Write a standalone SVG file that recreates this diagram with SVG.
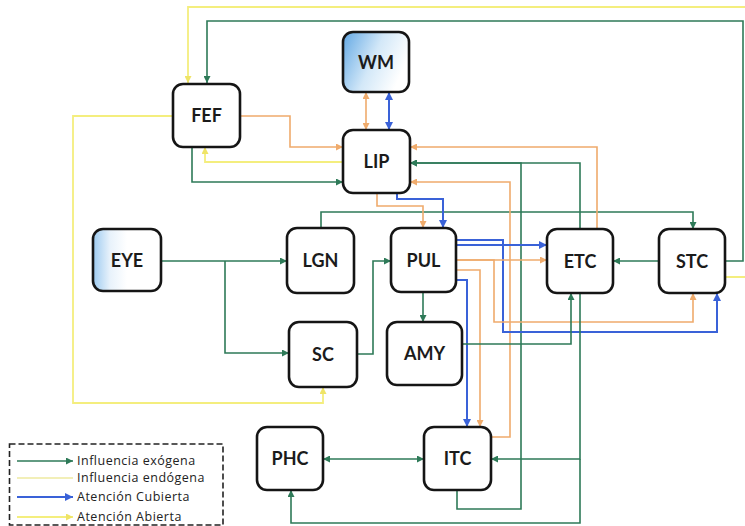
<svg xmlns="http://www.w3.org/2000/svg" width="745" height="526" viewBox="0 0 745 526">
<defs>
<style>
.node rect{fill:#fff;stroke:#151515;stroke-width:2.6}
.node text{font-family:Lato,"Open Sans","DejaVu Sans",sans-serif;font-weight:bold;font-size:18px;fill:#1b1b1b;text-anchor:middle}
.c{fill:none;stroke-width:1.6}
.g{stroke:#2e7a58}
.b{stroke:#3a62d8;stroke-width:2}
.o{stroke:#efab6c}
.y{stroke:#f4ee7e;stroke-width:1.8}
.leg{font-family:"Open Sans","DejaVu Sans",sans-serif;font-size:12.5px;fill:#222;letter-spacing:0.5px}
</style>
<marker id="ag" viewBox="0 0 10 10" refX="10" refY="5" markerWidth="7" markerHeight="7" markerUnits="userSpaceOnUse" orient="auto-start-reverse"><path d="M0,0L10,5L0,10z" fill="#2e7a58"/></marker>
<marker id="ab" viewBox="0 0 10 10" refX="10" refY="5" markerWidth="8" markerHeight="8" markerUnits="userSpaceOnUse" orient="auto-start-reverse"><path d="M0,0L10,5L0,10z" fill="#3a62d8"/></marker>
<marker id="ao" viewBox="0 0 10 10" refX="10" refY="5" markerWidth="7" markerHeight="7" markerUnits="userSpaceOnUse" orient="auto-start-reverse"><path d="M0,0L10,5L0,10z" fill="#efab6c"/></marker>
<marker id="ay" viewBox="0 0 10 10" refX="10" refY="5" markerWidth="7" markerHeight="7" markerUnits="userSpaceOnUse" orient="auto-start-reverse"><path d="M0,0L10,5L0,10z" fill="#efe466"/></marker>
<linearGradient id="gWM" x1="0" y1="0" x2="1" y2="0.4"><stop offset="0" stop-color="#62a8e4"/><stop offset="0.55" stop-color="#d3e8f8"/><stop offset="1" stop-color="#ffffff"/></linearGradient>
<linearGradient id="gEYE" x1="0" y1="0" x2="1" y2="0"><stop offset="0" stop-color="#9ccaf0"/><stop offset="0.25" stop-color="#e8f2fb"/><stop offset="0.5" stop-color="#ffffff"/></linearGradient>
</defs>
<rect width="745" height="526" fill="#fff"/>
<g id="connectors">
<path class="c y" d="M725,277H746V7H188V83" marker-end="url(#ay)"/>
<path class="c g" d="M725,261H743V21H207V83" marker-end="url(#ag)"/>
<path class="c o" d="M366,92V130" marker-start="url(#ao)" marker-end="url(#ao)"/>
<path class="c b" d="M389,92V130" marker-start="url(#ab)" marker-end="url(#ab)"/>
<path class="c o" d="M240,116H290V147H343" marker-end="url(#ao)"/>
<path class="c y" d="M343,162H205V147" marker-end="url(#ay)"/>
<path class="c g" d="M192,147V182H343" marker-end="url(#ag)"/>
<path class="c y" d="M173,116H73V403H323V387" marker-end="url(#ay)"/>
<path class="c g" d="M161,261H287" marker-end="url(#ag)"/>
<path class="c g" d="M225,261V353H289" marker-end="url(#ag)"/>
<path class="c g" d="M321,228V212H693V229" marker-end="url(#ag)"/>
<path class="c g" d="M357,354H373V261H391" marker-end="url(#ag)"/>
<path class="c g" d="M423,292V322" marker-end="url(#ag)"/>
<path class="c b" d="M397,193V199H443V228" marker-end="url(#ab)"/>
<path class="c o" d="M377,193V206H423V228" marker-end="url(#ao)"/>
<path class="c o" d="M597,229V147H410" marker-end="url(#ao)"/>
<path class="c g" d="M580,229V163H410" marker-end="url(#ag)"/>
<path class="c g" d="M457,490V509H521V163H410" marker-end="url(#ag)"/>
<path class="c o" d="M491,437H510V182H410" marker-end="url(#ao)"/>
<path class="c b" d="M456,245H547" marker-end="url(#ab)"/>
<path class="c b" d="M456,240H503V332H717V293" marker-end="url(#ab)"/>
<path class="c o" d="M456,260H547" marker-end="url(#ao)"/>
<path class="c o" d="M456,260H494V322H693V293" marker-end="url(#ao)"/>
<path class="c o" d="M456,270H480V427" marker-end="url(#ao)"/>
<path class="c b" d="M456,280H467V427" marker-end="url(#ab)"/>
<path class="c g" d="M462,344H571V293" marker-end="url(#ag)"/>
<path class="c g" d="M659,261H613" marker-end="url(#ag)"/>
<path class="c g" d="M580,293V459H491" marker-end="url(#ag)"/>
<path class="c g" d="M580,459V523H291V490" marker-end="url(#ag)"/>
<path class="c g" d="M323,459H424" marker-start="url(#ag)" marker-end="url(#ag)"/>
</g>
<g id="node-WM" class="node"><rect x="343" y="32" width="66" height="60" rx="10" style="fill:url(#gWM)"/><text x="376" y="69">WM</text></g>
<g id="node-FEF" class="node"><rect x="173" y="84" width="67" height="63" rx="10"/><text x="206.5" y="122">FEF</text></g>
<g id="node-LIP" class="node"><rect x="343" y="130" width="67" height="63" rx="10"/><text x="376.5" y="168">LIP</text></g>
<g id="node-EYE" class="node"><rect x="93" y="229" width="68" height="62" rx="10" style="fill:url(#gEYE)"/><text x="127" y="267">EYE</text></g>
<g id="node-LGN" class="node"><rect x="287" y="228" width="67" height="65" rx="10"/><text x="320.5" y="267">LGN</text></g>
<g id="node-PUL" class="node"><rect x="391" y="228" width="65" height="64" rx="10"/><text x="423.5" y="267">PUL</text></g>
<g id="node-ETC" class="node"><rect x="547" y="229" width="66" height="64" rx="10"/><text x="580" y="268">ETC</text></g>
<g id="node-STC" class="node"><rect x="659" y="229" width="66" height="64" rx="10"/><text x="692" y="268">STC</text></g>
<g id="node-SC" class="node"><rect x="289" y="322" width="68" height="65" rx="10"/><text x="323" y="361">SC</text></g>
<g id="node-AMY" class="node"><rect x="387" y="322" width="75" height="63" rx="10"/><text x="424.5" y="360">AMY</text></g>
<g id="node-PHC" class="node"><rect x="257" y="427" width="66" height="63" rx="10"/><text x="290" y="465">PHC</text></g>
<g id="node-ITC" class="node"><rect x="424" y="427" width="67" height="63" rx="10"/><text x="457.5" y="465">ITC</text></g>
<g id="legend">
<rect x="9.5" y="444" width="213.5" height="81" fill="none" stroke="#222" stroke-width="1.6" stroke-dasharray="6,3"/>
<path class="c g" d="M17,461H73" marker-end="url(#ag)"/>
<path class="c" d="M17,478H73" stroke="#eeeaa0" stroke-width="1.6"/>
<path class="c b" d="M17,497H73" marker-end="url(#ab)"/>
<path class="c y" d="M17,517H73" marker-end="url(#ay)"/>
<text class="leg" x="77" y="465">Influencia exógena</text>
<text class="leg" x="77" y="482">Influencia endógena</text>
<text class="leg" x="77" y="501">Atención Cubierta</text>
<text class="leg" x="77" y="521">Atención Abierta</text>
</g>
</svg>
